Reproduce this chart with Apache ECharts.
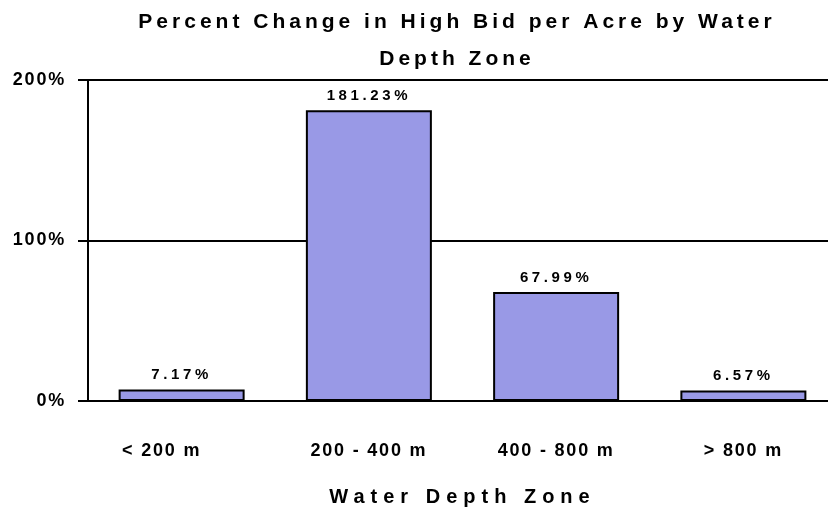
<!DOCTYPE html>
<html>
<head>
<meta charset="utf-8">
<script src="https://cdn.jsdelivr.net/npm/echarts@6/dist/echarts.min.js"></script>
<style>
    html, body { margin: 0; padding: 0; background: #fff; }
    #chart { width: 828px; height: 516px; }
</style>
</head>
<body>
<div id="chart"></div>
<script>
const depthZones = ['< 200 m', '200 - 400 m', '400 - 800 m', '> 800 m']
const bidChange = [7.17, 181.23, 67.99, 6.57]

// the original chart uses spaced-out lettering, echarts has no option for it
const spacingBySize = {'21px': '4px', '20px': '6px', '18px': '1.8px', '15px': '3.6px'}
const origFillText = CanvasRenderingContext2D.prototype.fillText
CanvasRenderingContext2D.prototype.fillText = function (t, x, y, w) {
    const m = /(\d+px)/.exec(this.font)
    this.letterSpacing = (m && spacingBySize[m[1]]) || '0px'
    return w === undefined ? origFillText.call(this, t, x, y) : origFillText.call(this, t, x, y, w)
}

const font = 'Liberation Sans, Arial, sans-serif'

// first label sits a bit left of its bar in the original
const xLabels = depthZones.map((z, i) => i === 0 ? {value: z, textStyle: {padding: [0, 40, 0, 0]}} : z)

let chart = echarts.init(document.getElementById('chart'))
chart.setOption({
    animation: false,
    title: {
        text: 'Percent Change in High Bid per Acre by Water\nDepth Zone',
        left: 457,
        top: 4,
        padding: 0,
        textAlign: 'center',
        textStyle: {
            fontFamily: font,
            fontSize: 21,
            fontWeight: 'bold',
            color: '#000',
            lineHeight: 37
        }
    },
    grid: {
        left: 88,
        right: -9,
        top: 80,
        bottom: 115,
        outerBoundsMode: 'none'
    },
    xAxis: {
        type: 'category',
        data: xLabels,
        name: 'Water Depth Zone',
        nameLocation: 'middle',
        nameGap: 86,
        nameTextStyle: {
            fontFamily: font,
            fontSize: 20,
            fontWeight: 'bold',
            color: '#000'
        },
        axisLine: {
            show: true,
            lineStyle: { color: '#000', width: 2 }
        },
        axisTick: { show: false },
        axisLabel: {
            margin: 41,
            fontFamily: font,
            fontSize: 18,
            fontWeight: 'bold',
            color: '#000',
            interval: 0
        }
    },
    yAxis: {
        type: 'value',
        min: 0,
        max: 200,
        interval: 100,
        axisLine: {
            show: true,
            lineStyle: { color: '#000', width: 2 }
        },
        axisTick: {
            show: true,
            length: 10,
            lineStyle: { color: '#000', width: 2 }
        },
        splitLine: {
            show: true,
            lineStyle: { color: '#000', width: 2 }
        },
        axisLabel: {
            margin: 22,
            formatter: '{value}%',
            fontFamily: font,
            fontSize: 18,
            fontWeight: 'bold',
            color: '#000'
        }
    },
    series: [
        {
            type: 'bar',
            data: bidChange,
            barWidth: 126,
            itemStyle: {
                color: '#9999e6',
                borderColor: '#000',
                borderWidth: 2
            },
            label: {
                show: true,
                position: 'top',
                distance: 7,
                formatter: p => p.value.toFixed(2) + '%',
                fontFamily: font,
                fontSize: 15,
                fontWeight: 'bold',
                color: '#000'
            }
        }
    ]
})
</script>
</body>
</html>
